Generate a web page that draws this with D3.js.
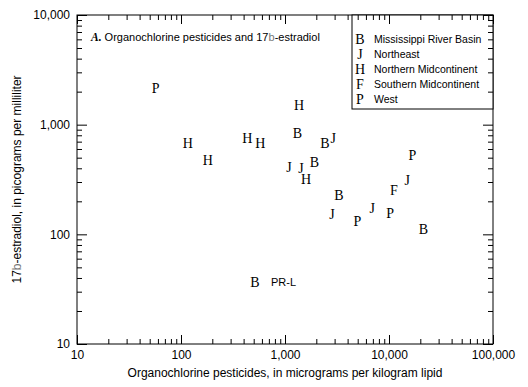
<!DOCTYPE html>
<html>
<head>
<meta charset="utf-8">
<script src="https://cdn.jsdelivr.net/npm/d3@7"></script>
<style>
  html, body { margin: 0; padding: 0; background: #fff; }
  svg text { font-family: "Liberation Sans", Arial, sans-serif; fill: #000; }
  .tick line { stroke: #000; }
  .mark { font-family: "Liberation Serif", "Times New Roman", serif; font-size: 14px; }
</style>
</head>
<body>
<div id="chart"></div>
<script>
// region legend
const regionSymbols = ['B', 'J', 'H', 'F', 'P'];
const regionNames = ['Mississippi River Basin', 'Northeast', 'Northern Midcontinent', 'Southern Midcontinent', 'West'];

// one entry per site
const siteSymbol = ['P', 'H', 'H', 'H', 'H', 'H', 'B', 'B', 'J', 'J', 'J', 'B', 'H', 'B', 'J', 'P', 'J', 'F', 'P', 'J', 'P', 'B', 'B'];
const pesticides = [57, 116, 181, 434, 579, 1364, 1313, 2425, 2913, 1092, 1425, 1913, 1592, 3305, 2831, 16750, 15000, 11170, 4955, 6905, 10230, 21370, 515];
const estradiol  = [2150, 685, 476, 761, 685, 1513, 845, 677, 761, 414, 400, 460, 320, 229, 153, 529, 313, 254, 133, 173, 156, 111, 36.8];
const siteLabel  = ['', '', '', '', '', '', '', '', '', '', '', '', '', '', '', '', '', '', '', '', '', '', 'PR-L'];

const xMajor = [10, 100, 1000, 10000, 100000];
const yMajor = [10, 100, 1000, 10000];

const W = 528, H = 387;
const margin = { top: 15, right: 35, bottom: 43, left: 77 };
const iw = W - margin.left - margin.right;
const ih = H - margin.top - margin.bottom;

const svg = d3.select('#chart').append('svg')
  .attr('width', W).attr('height', H);
const g = svg.append('g').attr('transform', `translate(${margin.left},${margin.top})`);

const x = d3.scaleLog().domain([10, 100000]).range([0, iw]);
const y = d3.scaleLog().domain([10, 10000]).range([ih, 0]);

function minors(majors) {
  const out = [];
  for (let i = 0; i < majors.length - 1; i++)
    for (let k = 2; k <= 9; k++) out.push(majors[i] * k);
  return out;
}
const fmt = d3.format(',');

function addAxis(axis, transform, labels) {
  const a = g.append('g').attr('transform', transform).call(axis);
  a.select('.domain').remove();
  a.selectAll('text').style('font-size', '12px')
    .style('font-family', '"Liberation Sans", Arial, sans-serif');
  if (!labels) a.selectAll('text').remove();
  return a;
}

// major + minor ticks, pointing inward on all four sides
addAxis(d3.axisBottom(x).tickValues(xMajor).tickFormat(fmt).tickSizeInner(-9).tickSizeOuter(0).tickPadding(6), `translate(0,${ih})`, true);
addAxis(d3.axisBottom(x).tickValues(minors(xMajor)).tickFormat('').tickSizeInner(-5).tickSizeOuter(0), `translate(0,${ih})`, false);
addAxis(d3.axisTop(x).tickValues(xMajor).tickSizeInner(-9).tickSizeOuter(0), 'translate(0,0)', false);
addAxis(d3.axisTop(x).tickValues(minors(xMajor)).tickSizeInner(-5).tickSizeOuter(0), 'translate(0,0)', false);
addAxis(d3.axisLeft(y).tickValues(yMajor).tickFormat(fmt).tickSizeInner(-10).tickSizeOuter(0).tickPadding(7), 'translate(0,0)', true);
addAxis(d3.axisLeft(y).tickValues(minors(yMajor)).tickFormat('').tickSizeInner(-5).tickSizeOuter(0), 'translate(0,0)', false);
addAxis(d3.axisRight(y).tickValues(yMajor).tickSizeInner(-10).tickSizeOuter(0), `translate(${iw},0)`, false);
addAxis(d3.axisRight(y).tickValues(minors(yMajor)).tickSizeInner(-5).tickSizeOuter(0), `translate(${iw},0)`, false);

// frame
g.append('rect').attr('width', iw).attr('height', ih)
  .attr('fill', 'none').attr('stroke', '#000').attr('stroke-width', 1);

// panel title
const title = g.append('text').attr('x', 14).attr('y', 26).style('font-size', '11px');
title.append('tspan').text('A.')
  .style('font-family', '"Liberation Serif", "Times New Roman", serif')
  .style('font-style', 'italic').style('font-weight', 'bold').style('font-size', '11.5px');
title.append('tspan').text(' Organochlorine pesticides and 17');
title.append('tspan').text('b').style('fill', '#777').style('font-weight', '300');
title.append('tspan').text('-estradiol');

// legend box
const lg = g.append('g').attr('transform', `translate(${iw - 141},0)`);
lg.append('rect').attr('width', 141).attr('height', 94)
  .attr('fill', '#fff').attr('stroke', '#000');
// ticks stay visible through the legend box
g.append('g').attr('transform', 'translate(0,0)')
  .call(d3.axisTop(x).tickValues(xMajor.concat(minors(xMajor)).filter(v => x(v) > iw - 141))
    .tickFormat('').tickSizeInner(-5).tickSizeOuter(0))
  .call(s => s.select('.domain').remove())
  .selectAll('line').attr('y2', d => xMajor.includes(d) ? 9 : 5);
g.append('g').attr('transform', `translate(${iw},0)`)
  .call(d3.axisRight(y).tickValues(yMajor.concat(minors(yMajor)).filter(v => y(v) < 94))
    .tickFormat('').tickSizeInner(-5).tickSizeOuter(0))
  .call(s => s.select('.domain').remove())
  .selectAll('line').attr('x2', d => yMajor.includes(d) ? -10 : -5);

regionSymbols.forEach((s, i) => {
  const ry = 24 + i * 15;
  lg.append('text').attr('class', 'mark').attr('x', 8).attr('y', ry)
    .attr('dy', '0.35em').attr('text-anchor', 'middle').text(s);
  lg.append('text').attr('x', 22).attr('y', ry).attr('dy', '0.35em')
    .style('font-size', '10.5px').text(regionNames[i]);
});

// site markers
g.selectAll('text.site').data(siteSymbol).join('text')
  .attr('class', 'mark site')
  .attr('x', (d, i) => x(pesticides[i]))
  .attr('y', (d, i) => y(estradiol[i]))
  .attr('dy', '0.35em').attr('text-anchor', 'middle')
  .text(d => d);

g.selectAll('text.sitelabel').data(siteLabel.map((l, i) => ({ l, i })).filter(d => d.l)).join('text')
  .attr('class', 'sitelabel')
  .attr('x', d => x(pesticides[d.i]) + 16)
  .attr('y', d => y(estradiol[d.i]))
  .attr('dy', '0.35em').style('font-size', '11px')
  .text(d => d.l);

// axis titles
svg.append('text')
  .attr('x', margin.left + iw / 2).attr('y', H - 10)
  .attr('text-anchor', 'middle').style('font-size', '12px')
  .text('Organochlorine pesticides, in micrograms per kilogram lipid');

const yt = svg.append('text')
  .attr('transform', `translate(21,${margin.top + ih / 2}) rotate(-90)`)
  .attr('text-anchor', 'middle').style('font-size', '12px');
yt.append('tspan').text('17');
yt.append('tspan').text('b').style('fill', '#777').style('font-weight', '300');
yt.append('tspan').text('-estradiol, in picograms per milliliter');
</script>
</body>
</html>
